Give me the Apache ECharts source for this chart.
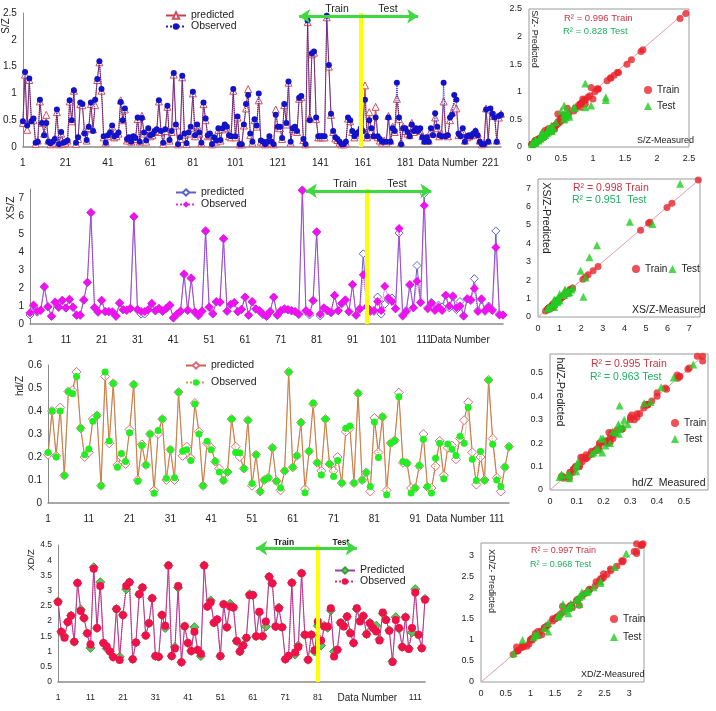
<!DOCTYPE html>
<html>
<head>
<meta charset="utf-8">
<script src="https://cdn.jsdelivr.net/npm/echarts@6/dist/echarts.min.js"></script>
<style>
  html, body { margin: 0; background: #fff; }
  #grafico { width: 716px; height: 711px; }
</style>
</head>
<body>
<div id="grafico"></div>
<script>
// S/Z (226 pontos)
const szObs = [
  0.48,1.40,0.40,1.28,0.48,0.53,0.08,0.10,0.88,0.45, 0.22,0.45,0.10,0.07,0.10,0.15,0.70,0.05,0.28,0.08,
  0.10,0.12,0.87,0.50,1.06,0.08,0.18,0.83,0.80,0.25, 0.13,0.38,0.83,0.30,0.88,1.27,1.60,1.08,0.20,0.08,
  0.22,0.27,0.40,0.20,0.22,0.27,0.84,0.50,0.72,0.15, 0.18,0.10,0.20,0.17,0.55,0.10,0.54,0.27,0.12,0.35,
  0.22,0.24,0.30,0.33,0.87,0.30,0.08,0.33,0.77,0.13, 0.30,1.38,0.42,0.05,0.18,1.33,0.25,0.07,0.27,0.38,
  1.03,0.22,0.42,0.27,0.08,0.83,0.53,0.22,0.25,0.05, 0.18,0.12,0.35,0.13,0.35,0.42,0.38,0.22,0.20,1.08,
  0.20,0.57,0.05,0.05,0.42,0.80,0.97,0.25,0.10,0.52, 0.40,1.00,0.12,0.10,0.05,0.10,0.20,0.10,0.05,0.60,
  0.38,0.38,0.17,0.80,0.45,1.22,0.10,0.35,0.38,0.30, 0.92,0.95,0.15,0.05,2.36,0.50,1.75,1.78,0.55,0.20,
  0.20,0.20,0.20,2.45,1.53,0.62,0.30,0.18,0.15,0.10, 0.05,0.05,0.10,0.55,0.50,0.30,0.20,0.25,0.28,0.35,
  0.30,0.88,0.20,0.50,0.35,0.20,0.55,0.20,0.15,0.10, 0.10,0.10,0.55,0.10,0.35,0.30,1.20,0.55,0.05,0.35,
  0.35,0.28,0.20,0.42,0.30,0.35,0.30,0.35,0.18,0.10, 0.18,0.10,0.35,0.22,0.63,0.38,0.22,0.20,1.20,0.20,
  0.22,0.55,0.60,0.97,0.88,0.25,0.20,0.35,0.10,0.20, 0.22,0.20,0.25,0.30,0.22,0.10,0.05,0.05,0.70,0.10,
  0.72,0.62,0.55,0.10,0.58,0.60
];
const szPred = [
  0.45,1.35,0.32,1.25,0.50,0.50,0.06,0.12,0.85,0.45, 0.25,0.60,0.12,0.05,0.08,0.15,0.65,0.05,0.25,0.06,
  0.08,0.12,0.85,0.48,1.05,0.06,0.15,0.80,0.78,0.30, 0.12,0.35,0.80,0.33,0.78,1.25,1.58,1.05,0.18,0.08,
  0.20,0.25,0.38,0.18,0.20,0.25,0.87,0.50,0.70,0.12, 0.15,0.10,0.18,0.15,0.52,0.10,0.58,0.25,0.10,0.33,
  0.20,0.22,0.28,0.30,0.85,0.28,0.06,0.30,0.75,0.12, 0.28,1.35,0.40,0.05,0.15,1.30,0.23,0.06,0.25,0.36,
  1.00,0.20,0.40,0.25,0.07,0.80,0.50,0.20,0.22,0.05, 0.16,0.10,0.32,0.12,0.33,0.40,0.36,0.20,0.18,1.05,
  0.18,0.55,0.05,0.05,0.40,0.72,1.08,0.22,0.08,0.50, 0.38,0.87,0.10,0.08,0.05,0.08,0.18,0.08,0.05,0.70,
  0.36,0.35,0.15,0.78,0.42,1.20,0.08,0.33,0.36,0.28, 0.90,0.93,0.13,0.05,2.33,0.55,1.73,1.76,0.52,0.18,
  0.18,0.18,0.18,2.42,1.50,0.60,0.28,0.16,0.13,0.08, 0.05,0.05,0.08,0.53,0.48,0.28,0.18,0.23,0.26,0.33,
  0.32,1.15,0.18,0.65,0.30,0.22,0.75,0.18,0.12,0.08, 0.12,0.08,0.58,0.12,0.38,0.28,0.90,0.52,0.08,0.38,
  0.30,0.25,0.22,0.45,0.28,0.33,0.32,0.30,0.20,0.12, 0.15,0.12,0.30,0.25,0.55,0.35,0.20,0.25,0.85,0.22,
  0.20,0.50,0.65,0.75,0.72,0.22,0.25,0.30,0.12,0.18, 0.20,0.22,0.22,0.30,0.25,0.12,0.05,0.07,0.72,0.12,
  0.70,0.58,0.60,0.12,0.55,0.62
];

// XS/Z (133 pontos)
const xsObs = [
  0.62,1.05,0.72,0.78,2.08,0.97,0.45,1.22,0.95,1.32, 0.90,1.38,0.95,0.50,0.50,1.35,2.32,6.20,0.92,0.68,
  1.32,0.70,0.70,0.68,0.45,1.18,0.80,0.78,0.88,5.97, 0.80,0.70,0.70,0.80,1.15,0.75,0.88,0.72,0.88,1.05,
  0.35,0.55,0.72,2.78,0.78,2.55,0.68,0.48,0.72,5.18, 0.95,0.58,1.25,1.22,4.75,0.72,1.10,1.20,0.70,0.82,
  1.50,0.50,1.25,0.85,0.75,0.55,0.45,0.70,1.48,0.50, 0.75,0.85,0.80,0.75,0.70,0.55,7.42,0.75,0.60,1.30,
  5.12,0.55,0.90,0.75,0.65,1.60,0.75,1.15,1.35,0.70, 2.20,0.50,0.85,2.73,0.95,0.75,0.75,1.25,0.75,2.10,
  1.45,1.25,0.85,5.30,0.45,0.70,2.20,0.90,2.38,1.20, 6.58,0.85,1.15,0.75,0.95,0.75,1.60,1.00,1.55,0.90,
  1.00,0.45,1.40,1.35,1.97,0.70,1.40,0.75,0.95,0.75, 4.25,0.50,0.50
];
const xsPred = [
  0.50,1.00,0.65,0.75,2.05,0.95,0.42,1.20,0.92,1.30, 0.88,1.35,0.92,0.48,0.48,1.32,2.30,6.18,0.90,0.65,
  1.30,0.68,0.68,0.65,0.42,1.15,0.78,0.75,0.85,5.95, 0.78,0.55,0.55,0.78,1.12,0.72,0.85,0.70,0.85,1.02,
  0.33,0.52,0.70,2.75,0.75,2.52,0.65,0.45,0.70,5.15, 0.92,0.55,1.22,1.20,4.72,0.70,1.08,1.18,0.68,0.80,
  1.48,0.48,1.22,0.82,0.72,0.52,0.42,0.68,1.50,0.48, 0.72,0.82,0.78,0.72,0.68,0.52,7.45,0.70,0.50,1.30,
  5.10,0.45,0.88,0.73,0.62,1.58,0.73,1.12,1.32,0.68, 2.18,0.48,0.82,3.90,0.95,0.70,0.70,1.50,0.55,1.10,
  1.35,1.45,0.85,5.05,0.50,0.75,2.15,0.90,3.25,1.20, 7.24,0.90,1.20,0.85,1.05,0.95,1.60,0.90,1.50,0.80,
  1.25,0.45,1.40,1.30,2.52,0.75,1.35,0.70,1.00,0.80, 5.17,0.55,0.50
];

// hd/Z (114 pontos)
const hdObs = [
  0.220,0.400,0.200,0.400,0.120,0.485,0.475,0.550,0.325,0.210, 0.235,0.355,0.380,0.075,0.570,0.270,0.520,0.155,0.215,0.180,
  0.305,0.515,0.095,0.250,0.165,0.300,0.042,0.315,0.365,0.108, 0.232,0.110,0.482,0.225,0.232,0.185,0.430,0.300,0.075,0.268,
  0.232,0.182,0.135,0.098,0.135,0.365,0.220,0.218,0.150,0.360, 0.085,0.210,0.050,0.100,0.110,0.240,0.095,0.065,0.140,0.570,
  0.155,0.205,0.350,0.045,0.225,0.435,0.175,0.122,0.365,0.170, 0.115,0.185,0.087,0.325,0.335,0.087,0.477,0.100,0.133,0.072,
  0.352,0.198,0.375,0.036,0.260,0.272,0.462,0.180,0.173,0.043, 0.065,0.163,0.277,0.072,0.043,0.195,0.260,0.105,0.257,0.234,
  0.207,0.290,0.260,0.415,0.190,0.098,0.224,0.098,0.535,0.255, 0.100,0.072,0.156,0.245
];
const hdPred = [
  0.210,0.400,0.205,0.415,0.120,0.485,0.490,0.570,0.325,0.200, 0.220,0.365,0.380,0.075,0.550,0.260,0.520,0.165,0.200,0.170,
  0.320,0.515,0.100,0.255,0.165,0.300,0.055,0.300,0.365,0.100, 0.232,0.100,0.482,0.205,0.245,0.195,0.435,0.310,0.075,0.260,
  0.240,0.180,0.150,0.098,0.135,0.365,0.245,0.200,0.150,0.360, 0.075,0.210,0.050,0.100,0.110,0.240,0.095,0.055,0.140,0.570,
  0.155,0.205,0.350,0.060,0.225,0.430,0.175,0.140,0.365,0.170, 0.140,0.200,0.087,0.310,0.325,0.087,0.477,0.100,0.133,0.050,
  0.370,0.220,0.375,0.055,0.260,0.272,0.480,0.175,0.173,0.065, 0.065,0.160,0.300,0.070,0.065,0.160,0.270,0.120,0.240,0.250,
  0.190,0.280,0.360,0.438,0.220,0.080,0.200,0.100,0.535,0.280, 0.110,0.050,0.156,0.245
];

// XD/Z (114 pontos)
const xdObs = [
  2.63,1.65,1.45,1.97,2.18,1.32,3.25,2.33,2.10,1.60, 1.23,3.72,1.77,3.15,1.28,1.17,1.00,0.82,2.40,0.72,
  2.20,3.15,3.28,0.75,1.30,2.88,3.10,1.53,1.93,2.75, 0.85,0.83,2.20,1.85,3.83,0.85,1.10,3.15,0.65,1.83,
  1.28,1.02,1.65,1.05,0.93,3.83,2.48,2.62,1.95,2.05, 0.85,2.55,1.80,2.48,2.45,1.35,1.00,1.20,1.45,2.85,
  2.86,1.50,2.31,1.50,1.99,3.46,3.24,1.82,2.42,1.80, 0.75,0.86,3.26,0.97,1.15,3.57,1.55,0.73,1.55,1.04,
  1.99,1.36,1.82,1.82,2.42,0.84,1.06,1.95,1.82,2.15, 1.60,1.28,2.42,1.99,2.17,1.57,1.93,1.77,1.66,1.36,
  2.28,2.04,1.68,0.66,2.04,1.77,1.15,2.13,1.08,1.77, 2.94,1.55,1.11,2.70
];
const xdPred = [
  2.65,1.65,1.50,1.97,2.18,1.32,3.25,2.38,2.10,1.60, 1.12,3.77,1.77,3.28,1.28,1.10,1.00,0.82,2.40,0.83,
  2.20,3.05,3.28,0.75,1.30,2.88,3.10,1.53,1.93,2.75, 0.85,0.83,2.20,1.77,3.83,0.85,1.15,3.10,0.65,1.83,
  1.28,1.02,1.80,1.05,0.85,3.83,2.48,2.68,1.95,2.05, 0.85,2.55,1.80,2.57,2.45,1.35,1.00,1.20,1.45,2.88,
  2.85,1.50,2.28,1.50,1.82,3.46,3.24,1.82,2.45,1.80, 0.75,0.85,3.26,0.90,1.20,3.57,1.55,0.73,1.55,1.00,
  1.85,1.20,1.85,1.78,2.35,1.00,1.06,1.95,1.85,2.15, 1.62,1.28,2.40,2.02,2.17,1.57,1.95,1.77,1.85,1.40,
  2.25,2.05,1.70,0.68,2.13,1.75,1.15,2.13,1.10,1.63, 3.05,1.55,1.12,2.73
];

const FONTE = '"Liberation Sans", Arial, sans-serif';

// índice (0-based) onde começam os pontos de teste
const INICIO_TESTE = { sz: 160, xs: 93, hd: 80, xd: 80 };

function categorias(n) {
  return Array.from({ length: n }, (_, i) => String(i + 1));
}

function pares(obs, pred, de, ate) {
  const out = [];
  for (let i = de; i < ate; i++) out.push([obs[i], pred[i]]);
  return out;
}

function texto(x, y, t, o = {}) {
  return {
    type: "text", x, y, rotation: o.rot || 0, silent: true,
    style: {
      text: t, fill: o.cor || "#222", fontSize: o.tam || 10, fontFamily: FONTE,
      fontWeight: o.peso || "normal", align: o.al || "left", verticalAlign: "middle",
    },
  };
}

// painéis de linha
const LINHAS = [
  {
    chave: "sz", obs: szObs, pred: szPred, max: 2.5, passo: 0.5, mostraMax: true,
    grid: { left: 21, top: 13, width: 480, height: 134 },
    cada: 20, dn: "201", some: [], dnPad: 0, fonte: 10,
    predEstilo: { symbol: "triangle", symbolSize: 7, linha: "#c8404a", borda: "#d0505a", miolo: "#fff" },
    obsEstilo: { symbol: "circle", symbolSize: 6, linha: "#2020c0", cor: "#1212c8" },
    nomes: ["predicted", "Observed"],
    legenda: { left: 165, top: 10, itemGap: 0 },
    amarela: 159, seta: [130, 186, 2.44],
  },
  {
    chave: "xs", obs: xsObs, pred: xsPred, max: 7.5, passo: 1, mostraMax: false,
    grid: { left: 30, top: 189, width: 473, height: 135 },
    cada: 10, dn: "121", some: [], dnPad: 0, fonte: 10,
    predEstilo: { symbol: "diamond", symbolSize: 8, linha: "#6a5cc8", borda: "#5a68c0", miolo: "#fff" },
    obsEstilo: { symbol: "diamond", symbolSize: 9, linha: "#d838d8", cor: "#f010f0" },
    nomes: ["predicted", "Observed"],
    legenda: { left: 175, top: 187, itemGap: 1 },
    amarela: 94, seta: [77, 112, 7.4],
  },
  {
    chave: "hd", obs: hdObs, pred: hdPred, max: 0.6, passo: 0.1, mostraMax: true,
    grid: { left: 48, top: 365, width: 461, height: 138 },
    cada: 10, dn: "101", some: [], dnPad: 0, fonte: 10,
    predEstilo: { symbol: "diamond", symbolSize: 9, linha: "#cc6048", borda: "#e06a80", miolo: "#fff" },
    obsEstilo: { symbol: "circle", symbolSize: 7, linha: "#c8a040", cor: "#22ee22" },
    nomes: ["predicted", "Observed"],
    legenda: { left: 185, top: 360, itemGap: 6 },
    amarela: null, seta: null,
  },
  {
    chave: "xd", obs: xdObs, pred: xdPred, max: 4.5, passo: 0.5, mostraMax: true,
    grid: { left: 58, top: 545, width: 367, height: 137 },
    cada: 10, dn: "91", some: ["101"], dnPad: 34, fonte: 8.5,
    predEstilo: { symbol: "diamond", symbolSize: 9, linha: "#9a3cb4", borda: "#3f9a3f", miolo: "#5cc85c" },
    obsEstilo: { symbol: "circle", symbolSize: 8, linha: "#e83060", cor: "#f0104a" },
    nomes: ["Predicted", "Observed"],
    legenda: { left: 334, top: 565, itemGap: 0 },
    amarela: 80, seta: [61, 92, 4.4],
  },
];

// painéis de dispersão (medido x previsto)
const DISPERSOES = [
  { chave: "sz", obs: szObs, pred: szPred, maxX: 2.5, maxY: 2.5, passo: 0.5, mostraMax: true,
    grid: { left: 529, top: 9, width: 160, height: 138 },
    legenda: { left: 644, top: 85, orient: "vertical", itemGap: 6 } },
  { chave: "xs", obs: xsObs, pred: xsPred, maxX: 7.5, maxY: 7.5, passo: 1, mostraMax: false,
    grid: { left: 538, top: 179, width: 162, height: 138 },
    legenda: { left: 632, top: 264, orient: "horizontal", itemGap: 1 } },
  { chave: "hd", obs: hdObs, pred: hdPred, maxX: 0.59, maxY: 0.58, passo: 0.1, mostraMax: false,
    grid: { left: 550, top: 354, width: 158, height: 136 },
    legenda: { left: 671, top: 418, orient: "vertical", itemGap: 6 } },
  { chave: "xd", obs: xdObs, pred: xdPred, maxX: 3.3, maxY: 3.3, passo: 0.5, mostraMax: false,
    grid: { left: 481, top: 543, width: 163, height: 139 },
    legenda: { left: 610, top: 614, orient: "vertical", itemGap: 8 } },
];

const grids = [], xAxis = [], yAxis = [], series = [], legend = [];
const soNome = (n) => n.split("|")[1];

LINHAS.forEach((p, i) => {
  grids.push(p.grid);
  xAxis.push({
    gridIndex: i, type: "category", boundaryGap: false, data: categorias(p.obs.length),
    axisLine: { lineStyle: { color: "#8a8a8a", width: 1.5 } },
    axisTick: { show: false },
    axisLabel: {
      interval: p.cada - 1, color: "#222", fontSize: p.fonte, fontFamily: FONTE, margin: 11,
      formatter: (v) => (v === p.dn ? "{dn|Data Number}" : p.some.includes(v) ? "" : v),
      rich: { dn: { fontSize: 10, fontFamily: FONTE, color: "#222", padding: [0, 0, 0, p.dnPad] } },
    },
  });
  yAxis.push({
    gridIndex: i, type: "value", min: 0, max: p.max, interval: p.passo,
    axisLine: { show: true, lineStyle: { color: "#8a8a8a" } },
    axisTick: { show: false }, splitLine: { show: false },
    axisLabel: { color: "#222", fontSize: p.fonte, fontFamily: FONTE, margin: 6, showMaxLabel: p.mostraMax },
  });
  const pe = p.predEstilo, oe = p.obsEstilo;
  const pred = {
    type: "line", name: p.chave + "|" + p.nomes[0], xAxisIndex: i, yAxisIndex: i, data: p.pred,
    symbol: pe.symbol, symbolSize: pe.symbolSize, showAllSymbol: true,
    lineStyle: { color: pe.linha, width: 1 },
    itemStyle: { color: pe.miolo, borderColor: pe.borda, borderWidth: 1 },
    z: 2,
  };
  const obs = {
    type: "line", name: p.chave + "|" + p.nomes[1], xAxisIndex: i, yAxisIndex: i, data: p.obs,
    symbol: oe.symbol, symbolSize: oe.symbolSize, showAllSymbol: true,
    lineStyle: { color: oe.linha, width: 1, type: "dotted" },
    itemStyle: { color: oe.cor },
    z: 3,
  };
  if (p.amarela !== null) {
    pred.markLine = {
      silent: true, symbol: "none", label: { show: false }, animation: false,
      lineStyle: { color: "#ffff00", width: 4, type: "solid" },
      data: [{ xAxis: p.amarela }],
    };
    obs.markLine = {
      silent: true, symbol: ["arrow", "arrow"], symbolSize: 11, label: { show: false }, animation: false,
      lineStyle: { color: "#3fd83f", width: 3, type: "solid" },
      data: [[{ coord: [p.seta[0], p.seta[2]] }, { coord: [p.seta[1], p.seta[2]] }]],
    };
  }
  series.push(pred, obs);
  legend.push({
    data: [pred.name, obs.name], orient: "vertical", selectedMode: false, padding: 0,
    left: p.legenda.left, top: p.legenda.top, itemGap: p.legenda.itemGap,
    itemWidth: 20, itemHeight: 8, formatter: soNome,
    textStyle: { fontSize: 10.5, fontFamily: FONTE, color: "#222" },
  });
});

DISPERSOES.forEach((d, k) => {
  const i = LINHAS.length + k;
  grids.push(Object.assign({ show: true, borderColor: "#9a9a9a", borderWidth: 1 }, d.grid));
  const eixo = (max) => ({
    gridIndex: i, type: "value", min: 0, max, interval: d.passo,
    axisLine: { show: false }, axisTick: { show: false }, splitLine: { show: false },
    axisLabel: { color: "#222", fontSize: 9, fontFamily: FONTE, margin: 7, showMaxLabel: d.mostraMax },
  });
  xAxis.push(eixo(d.maxX));
  yAxis.push(eixo(d.maxY));
  const corte = INICIO_TESTE[d.chave];
  const lado = Math.min(d.maxX, d.maxY);
  const treino = {
    type: "scatter", name: d.chave + "|Train", xAxisIndex: i, yAxisIndex: i,
    data: pares(d.obs, d.pred, 0, corte), symbol: "circle", symbolSize: 7,
    itemStyle: { color: "#e8242c" }, z: 3,
    markLine: {
      silent: true, symbol: "none", label: { show: false }, animation: false, z: 1,
      lineStyle: { color: "#d8a0a8", width: 1, type: "solid" },
      data: [[{ coord: [0, 0] }, { coord: [lado, lado] }]],
    },
  };
  const teste = {
    type: "scatter", name: d.chave + "|Test", xAxisIndex: i, yAxisIndex: i,
    data: pares(d.obs, d.pred, corte, d.obs.length), symbol: "triangle", symbolSize: 8,
    itemStyle: { color: "#22cc22" }, z: 4,
  };
  series.push(treino, teste);
  legend.push({
    data: [treino.name, teste.name], orient: d.legenda.orient, selectedMode: false, padding: 0,
    left: d.legenda.left, top: d.legenda.top, itemGap: d.legenda.itemGap,
    itemWidth: 8, itemHeight: 8, formatter: soNome,
    textStyle: { fontSize: 10, fontFamily: FONTE, color: "#222" },
  });
});

const V = Math.PI / 2;
const graphic = [
  // nomes dos eixos y das linhas
  texto(6.5, 26, "S/Z", { rot: V, al: "center", tam: 10 }),
  texto(11.5, 208, "XS/Z", { rot: V, al: "center", tam: 10.5 }),
  texto(20, 386, "hd/Z", { rot: V, al: "center", tam: 10 }),
  texto(31, 560, "XD/Z", { rot: V, al: "center", tam: 9.5 }),
  // treino / teste
  texto(337, 9, "Train", { al: "center", tam: 10.5 }),
  texto(388, 9, "Test", { al: "center", tam: 10.5 }),
  texto(345, 184, "Train", { al: "center", tam: 10.5 }),
  texto(397, 184, "Test", { al: "center", tam: 10.5 }),
  texto(284, 543, "Train", { al: "center", tam: 8.5, peso: "bold" }),
  texto(341, 543, "Test", { al: "center", tam: 8.5, peso: "bold" }),
  // dispersões
  texto(534, 39, "S/Z- Predicted", { rot: -V, al: "center", tam: 9 }),
  texto(637, 141, "S/Z-Measured", { tam: 9 }),
  texto(564, 18, "R² = 0.996 Train", { cor: "#cc3344", tam: 9.5 }),
  texto(563, 31, "R² = 0.828 Test", { cor: "#1fae62", tam: 9.5 }),
  texto(546, 218, "XS/Z-Predicted", { rot: -V, al: "center", tam: 10.5 }),
  texto(632, 310, "XS/Z-Measured", { tam: 10.5 }),
  texto(573, 188, "R² = 0.998 Train", { cor: "#cc3344", tam: 10.5 }),
  texto(572, 200, "R² = 0.951  Test", { cor: "#1fae62", tam: 10.5 }),
  texto(560, 392, "hd/Z-Predicted", { rot: -V, al: "center", tam: 10.5 }),
  texto(632, 483, "hd/Z  Measured", { tam: 10.5 }),
  texto(591, 364, "R² = 0.995 Train", { cor: "#cc3344", tam: 10.5 }),
  texto(590, 377, "R² = 0.963 Test", { cor: "#1fae62", tam: 10.5 }),
  texto(491, 581, "XD/Z- Predicted", { rot: -V, al: "center", tam: 9 }),
  texto(581, 675, "XD/Z-Measured", { tam: 9 }),
  texto(531, 551, "R² = 0.997 Train", { cor: "#cc3344", tam: 9 }),
  texto(530, 565, "R² = 0.968 Test", { cor: "#1fae62", tam: 9 }),
];

const g = echarts.init(document.getElementById("grafico"));
g.setOption({
  animation: false,
  backgroundColor: "#fff",
  textStyle: { fontFamily: FONTE },
  grid: grids, xAxis, yAxis, series, legend, graphic,
});
</script>
</body>
</html>
